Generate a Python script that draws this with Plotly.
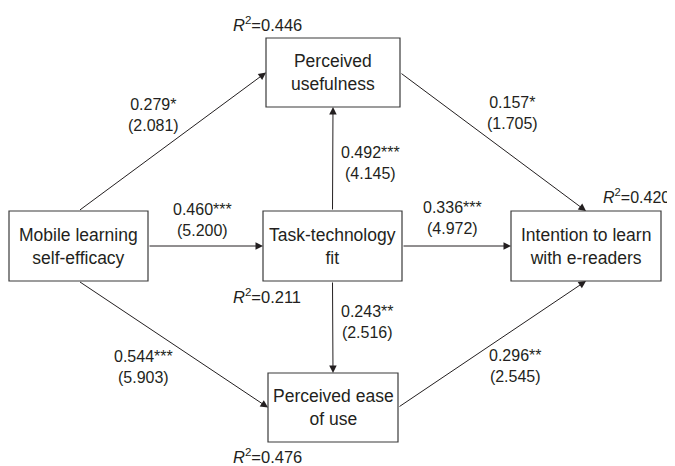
import plotly.graph_objects as go

# ---- data ----
node_names = ["Mobile learning<br>self-efficacy", "Perceived<br>usefulness",
              "Task-technology<br>fit", "Perceived ease<br>of use",
              "Intention to learn<br>with e-readers"]
r2_values = [None, 0.446, 0.211, 0.476, 0.420]
path_from = [0, 0, 0, 2, 2, 2, 1, 3]
path_to = [1, 2, 3, 1, 3, 4, 4, 4]
path_coef = [0.279, 0.460, 0.544, 0.492, 0.243, 0.336, 0.157, 0.296]
path_sig = ["*", "***", "***", "***", "**", "***", "*", "**"]
path_t = [2.081, 5.200, 5.903, 4.145, 2.516, 4.972, 1.705, 2.545]

# ---- layout (pixel geometry, page coordinates) ----
W, H = 675, 466
OFF = 8  # page body margin in the browser
box_cx = [78.5, 333, 332.5, 333, 586]
box_cy = [246, 72.5, 246, 407.5, 246]
box_w = [139, 134, 139, 130, 150]
box_h = [70, 69, 70, 69, 70]
# side of source / target box where each path attaches
src_side = ["top", "right", "bottom", "top", "bottom", "right", "right", "right"]
dst_side = ["left", "left", "left", "bottom", "top", "left", "top", "bottom"]
label_xy = [(153, 115), (202, 220), (143, 367), (370, 163), (367, 322),
            (452, 218), (512, 113), (515, 366)]
r2_xy = [None, (232, 24), (232, 296), (232, 456), (602, 196)]
r2_size = [None, 16.5, 16.5, 16.5, 16]

TEXT = "#231f20"
LINE = "#231f20"
FONT = "Liberation Sans, Arial, sans-serif"


def anchor(i, side):
    cx, cy, w, h = box_cx[i], box_cy[i], box_w[i], box_h[i]
    if side == "top":
        return cx, cy - h / 2
    if side == "bottom":
        return cx, cy + h / 2
    if side == "left":
        return cx - w / 2, cy
    return cx + w / 2, cy


fig = go.Figure()
fig.add_trace(go.Scatter(x=[OFF, W + OFF], y=[OFF, H + OFF], mode="markers",
                         marker=dict(opacity=0), hoverinfo="skip", showlegend=False))

shapes = []
annotations = []
for i, name in enumerate(node_names):
    shapes.append(dict(type="rect", xref="x", yref="y",
                       x0=box_cx[i] - box_w[i] / 2, x1=box_cx[i] + box_w[i] / 2,
                       y0=box_cy[i] - box_h[i] / 2, y1=box_cy[i] + box_h[i] / 2,
                       line=dict(color="#3a3a3a", width=1.2), fillcolor="white",
                       layer="above"))
    annotations.append(dict(x=box_cx[i], y=box_cy[i], xref="x", yref="y",
                            text=name, showarrow=False,
                            font=dict(family=FONT, size=17.5, color=TEXT)))
    if r2_values[i] is not None:
        rx, ry = r2_xy[i]
        annotations.append(dict(x=rx, y=ry, xref="x", yref="y", xanchor="left",
                                text="<i>R</i><sup>2</sup>=%.3f" % r2_values[i],
                                showarrow=False, borderpad=0,
                                font=dict(family=FONT, size=r2_size[i], color=TEXT)))

for k in range(len(path_from)):
    sx, sy = anchor(path_from[k], src_side[k])
    tx, ty = anchor(path_to[k], dst_side[k])
    annotations.append(dict(x=tx, y=ty, ax=sx, ay=sy, xref="x", yref="y",
                            axref="x", ayref="y", text="", showarrow=True,
                            arrowhead=2, arrowsize=1.5, arrowwidth=1,
                            arrowcolor=LINE, standoff=0, startstandoff=0))
    lx, ly = label_xy[k]
    annotations.append(dict(x=lx, y=ly, xref="x", yref="y",
                            text="%.3f%s<br>(%.3f)" % (path_coef[k], path_sig[k], path_t[k]),
                            showarrow=False,
                            font=dict(family=FONT, size=16, color=TEXT)))

fig.update_layout(
    width=W, height=H, margin=dict(l=0, r=0, t=0, b=0),
    paper_bgcolor="white", plot_bgcolor="white",
    xaxis=dict(range=[OFF, W + OFF], visible=False, fixedrange=True),
    yaxis=dict(range=[H + OFF, OFF], visible=False, fixedrange=True),
    shapes=shapes, annotations=annotations, showlegend=False,
)
fig.write_html("out.html", config={"displayModeBar": False})
